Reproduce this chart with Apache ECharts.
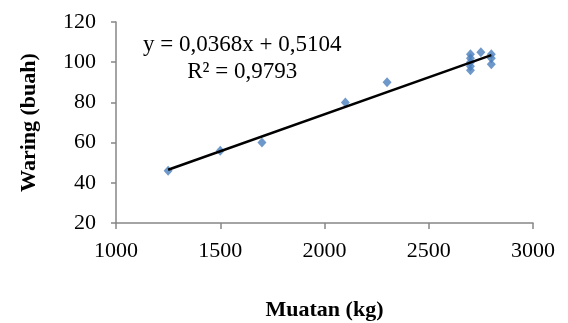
<!DOCTYPE html>
<html>
<head>
<meta charset="utf-8">
<script src="https://cdn.jsdelivr.net/npm/echarts@6/dist/echarts.min.js"></script>
<style>
html,body{margin:0;padding:0;background:#fff;}
#c{width:568px;height:323px;}
</style>
</head>
<body>
<div id="c"></div>
<script>
var muatan = [1250, 1500, 1700, 2100, 2300, 2700, 2700, 2700, 2700, 2700, 2750, 2800, 2800, 2800];
var waring = [46, 56, 60, 80, 90, 96, 98, 100, 102, 104, 105, 104, 102, 99];
var slope = 0.0368;
var intercept = 0.5104;
var trendX = [1250, 2800];
var equationText = 'y = 0,0368x + 0,5104';
var r2Text = 'R² = 0,9793';
var xTitle = 'Muatan (kg)';
var yTitle = 'Waring (buah)';

var points = muatan.map(function (x, i) { return [x, waring[i]]; });
var trend = trendX.map(function (x) { return [x, slope * x + intercept]; });

var font = '"Liberation Serif", "Times New Roman", serif';
var chart = echarts.init(document.getElementById('c'), null, {renderer: 'canvas'});
chart.setOption({
  animation: false,
  textStyle: {fontFamily: font},
  grid: {left: 116, right: 35, top: 22, bottom: 100, containLabel: false, outerBoundsMode: 'none'},
  xAxis: {
    type: 'value', min: 1000, max: 3000, interval: 500,
    name: xTitle, nameLocation: 'middle', nameGap: 76,
    nameTextStyle: {fontFamily: font, fontSize: 22, fontWeight: 'bold', color: '#000'},
    axisLine: {show: true, lineStyle: {color: '#868686', width: 1.5}},
    axisTick: {show: true, inside: false, length: 6, lineStyle: {color: '#868686', width: 1.5}},
    axisLabel: {fontFamily: font, fontSize: 22, color: '#000', margin: 17,
      formatter: function (v) { return String(v); }},
    splitLine: {show: false}
  },
  yAxis: {
    type: 'value', min: 20, max: 120, interval: 20,
    name: yTitle, nameLocation: 'middle', nameGap: 76, nameRotate: 90,
    nameTextStyle: {fontFamily: font, fontSize: 22, fontWeight: 'bold', color: '#000'},
    axisLine: {show: true, lineStyle: {color: '#868686', width: 1.5}},
    axisTick: {show: true, inside: false, length: 5, lineStyle: {color: '#868686', width: 1.5}},
    axisLabel: {fontFamily: font, fontSize: 22, color: '#000', margin: 20},
    splitLine: {show: false}
  },
  series: [
    {
      type: 'line', data: trend, symbol: 'none',
      lineStyle: {color: '#000', width: 2.5}, z: 3
    },
    {
      type: 'scatter', data: points, symbol: 'diamond', symbolSize: [9, 10],
      itemStyle: {color: '#4A7EBB'}, z: 2
    }
  ],
  graphic: [{
    type: 'text', left: 143, top: 31, z: 10,
    style: {
      text: equationText + '\n' + r2Text,
      font: '23px ' + font,
      fill: '#000',
      textAlign: 'center',
      lineHeight: 27
    }
  }]
});
</script>
</body>
</html>
